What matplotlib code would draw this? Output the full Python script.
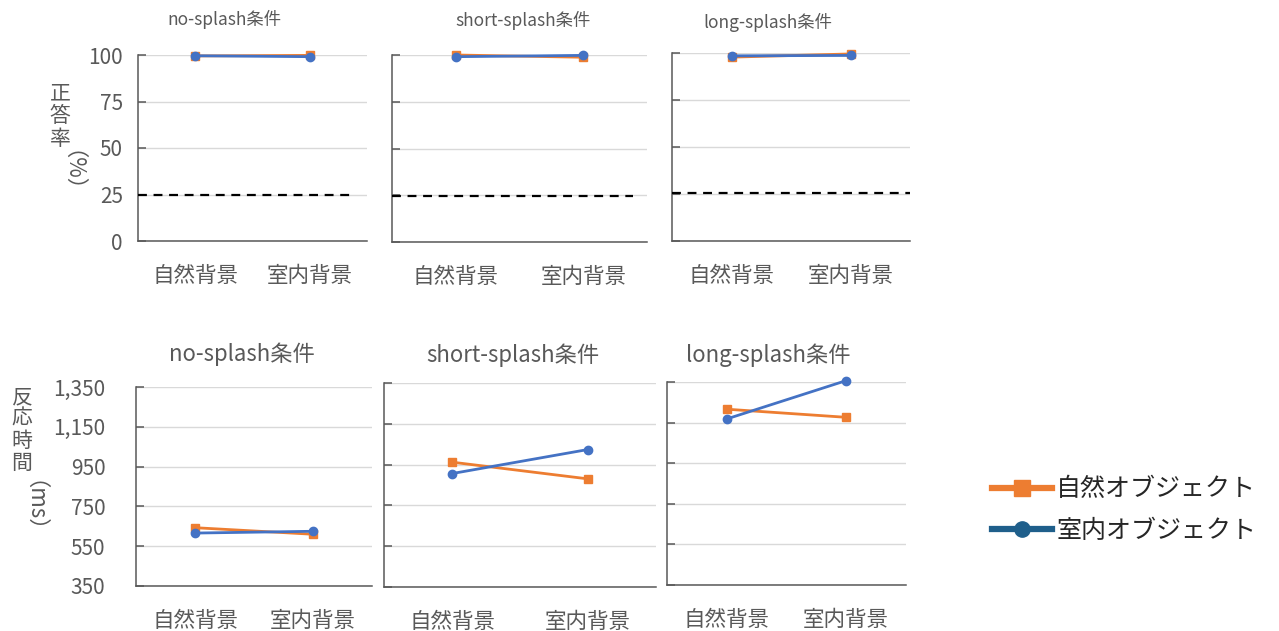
import matplotlib
matplotlib.use("Agg")
import matplotlib.pyplot as plt
from matplotlib.lines import Line2D

plt.rcParams['font.family'] = ['Noto Sans CJK JP', 'DejaVu Sans']

# ---------------- data ----------------
categories = ['自然背景', '室内背景']
conditions = ['no-splash条件', 'short-splash条件', 'long-splash条件']
series_names = ['自然オブジェクト', '室内オブジェクト']

acc_natural_obj = [[99.5, 99.8], [100.0, 98.8], [97.8, 99.5]]
acc_indoor_obj = [[99.6, 99.1], [99.1, 99.8], [98.5, 98.7]]
chance_level = [25.0, 24.5, 25.5]

rt_natural_obj = [[643, 610], [962, 880], [1216, 1176]]
rt_indoor_obj = [[616, 625], [906, 1024], [1168, 1357]]

acc_ticks = [0, 25, 50, 75, 100]
rt_ticks = [350, 550, 750, 950, 1150, 1350]
rt_ticklabels = ['350', '550', '750', '950', '1,150', '1,350']

# ---------------- style ----------------
ORANGE = '#ED7D31'
BLUE = '#4472C4'
LEG_BLUE = '#1F5F8B'
TXT = '#595959'
GRID = '#D9D9D9'
SPINE = '#595959'

W, H = 1279, 631
fig = plt.figure(figsize=(W / 100, H / 100), dpi=100)


def box(x0, y0, x1, y1):
    return [x0 / W, 1 - y1 / H, (x1 - x0) / W, (y1 - y0) / H]


top_boxes = [box(138, 55, 367, 241), box(392, 55, 647, 242), box(672, 53, 910, 241)]
bot_boxes = [box(136, 387, 372, 586), box(384, 383, 656, 587), box(667, 382, 906, 585)]
top_title_pos = [(224, 19), (523, 20), (768, 22)]
bot_title_pos = [(242, 354), (513, 355), (768, 355)]
chance_xmax = [0.934, 0.945, 1.0]


def style_ax(ax, ticks, labels, show_labels, ypad):
    ax.set_xlim(-0.5, 1.5)
    ax.set_ylim(ticks[0], ticks[-1])
    ax.set_yticks(ticks)
    ax.set_yticklabels(labels if show_labels else [''] * len(ticks))
    ax.set_xticks([0, 1])
    ax.set_xticklabels(categories)
    for s in ['top', 'right']:
        ax.spines[s].set_visible(False)
    for s in ['left', 'bottom']:
        ax.spines[s].set_color(SPINE)
        ax.spines[s].set_linewidth(1.1)
    ax.grid(axis='y', color=GRID, linewidth=1.0)
    ax.set_axisbelow(True)
    ax.tick_params(axis='y', direction='in', length=6, width=1.1, color=SPINE,
                   labelsize=15, labelcolor=TXT, pad=ypad)
    ax.tick_params(axis='x', length=0, labelsize=15.5, labelcolor=TXT, pad=17)


x = [0, 1]
for i in range(3):
    ax = fig.add_axes(top_boxes[i])
    style_ax(ax, acc_ticks, [str(t) for t in acc_ticks], i == 0, 11)
    ax.axhline(chance_level[i], xmin=0, xmax=chance_xmax[i], color='black',
               linestyle=(0, (4, 3)), linewidth=1.6, zorder=3)
    ax.plot(x, acc_natural_obj[i], color=ORANGE, marker='s', markersize=6,
            linewidth=2.0, clip_on=False, zorder=4)
    ax.plot(x, acc_indoor_obj[i], color=BLUE, marker='o', markersize=6,
            linewidth=2.0, clip_on=False, zorder=5)
    fig.text(top_title_pos[i][0] / W, 1 - top_title_pos[i][1] / H, conditions[i],
             ha='center', va='center', fontsize=12.5, color=TXT)

for i in range(3):
    ax = fig.add_axes(bot_boxes[i])
    style_ax(ax, rt_ticks, rt_ticklabels, i == 0, 22)
    ax.plot(x, rt_natural_obj[i], color=ORANGE, marker='s', markersize=6,
            linewidth=2.0, clip_on=False, zorder=4)
    ax.plot(x, rt_indoor_obj[i], color=BLUE, marker='o', markersize=6,
            linewidth=2.0, clip_on=False, zorder=5)
    fig.text(bot_title_pos[i][0] / W, 1 - bot_title_pos[i][1] / H, conditions[i],
             ha='center', va='center', fontsize=16, color=TXT)

# vertical y-axis labels
fig.text(60 / W, 1 - 116 / H, '正\n答\n率', ha='center', va='center',
         fontsize=15, color=TXT, linespacing=1.05)
fig.text(60 / W, 1 - 183 / H, '（%）', ha='center', va='center',
         fontsize=16, color=TXT, rotation=-90)
fig.text(22 / W, 1 - 430 / H, '反\n応\n時\n間', ha='center', va='center',
         fontsize=15, color=TXT, linespacing=1.0)
fig.text(22 / W, 1 - 518 / H, '（ms）', ha='center', va='center',
         fontsize=16, color=TXT, rotation=-90)

# legend
handles = [Line2D([0], [0], color=ORANGE, marker='s', markersize=11, linewidth=4.5),
           Line2D([0], [0], color=LEG_BLUE, marker='o', markersize=11, linewidth=4.5)]
fig.legend(handles, series_names, loc='center left',
           bbox_to_anchor=(970 / W, 1 - 510 / H), frameon=False,
           fontsize=18, handlelength=2.4, handletextpad=0.15,
           labelspacing=0.62, labelcolor='#262626')

fig.savefig('out.png', dpi=100)
